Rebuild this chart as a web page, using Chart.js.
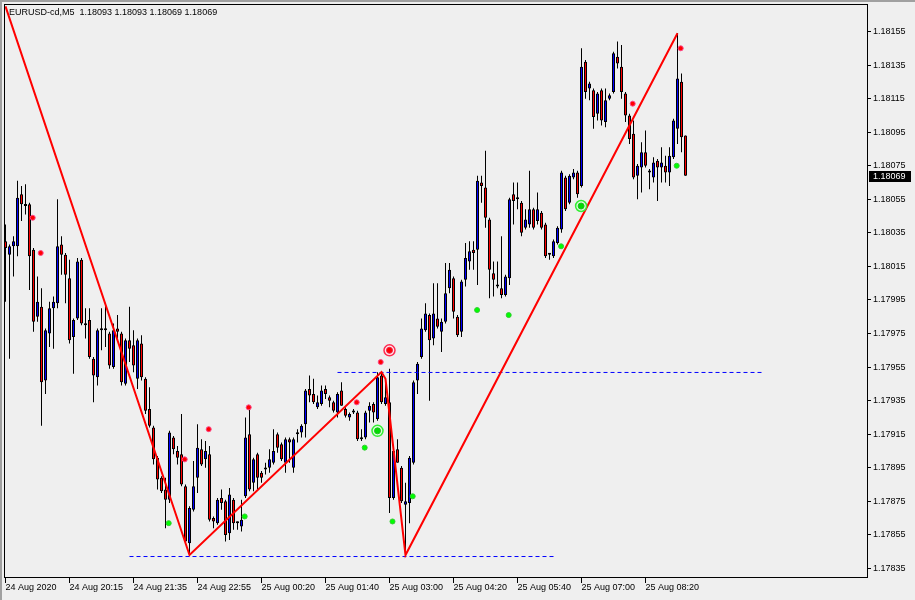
<!DOCTYPE html>
<html><head><meta charset="utf-8">
<script src="https://cdn.jsdelivr.net/npm/chart.js@4.4.1/dist/chart.umd.min.js"></script>
<style>
html,body{margin:0;padding:0;background:#efefef;overflow:hidden;}
#wrap{position:relative;width:915px;height:600px;}
</style></head><body>
<div id="wrap"><canvas id="c" width="915" height="600"></canvas></div>
<script>
const symbol = "EURUSD-cd,M5";
const opens = [
1.18030,1.18022,1.18027,1.18027,1.18058,1.18052,1.18052,1.18025,1.17985,1.17991,
1.17947,1.17975,1.17990,1.17993,1.18028,1.18022,1.18008,1.17973,1.17984,1.18019,
1.17980,1.17983,1.17960,1.17949,1.17977,1.17977,1.17975,1.17955,1.17978,1.17975,
1.17945,1.17971,1.17968,1.17948,1.17969,1.17948,1.17930,1.17919,1.17901,1.17889,
1.17882,1.17876,1.17913,1.17905,1.17903,1.17884,1.17850,1.17870,1.17889,1.17906,
1.17900,1.17903,1.17865,1.17862,1.17877,1.17875,1.17856,1.17876,1.17862,1.17860,
1.17878,1.17915,1.17886,1.17903,1.17892,1.17895,1.17895,1.17898,1.17915,1.17909,
1.17898,1.17912,1.17895,1.17915,1.17916,1.17921,1.17942,1.17939,1.17931,1.17933,
1.17942,1.17937,1.17934,1.17928,1.17941,1.17930,1.17925,1.17928,1.17928,1.17912,
1.17913,1.17929,1.17933,1.17924,1.17950,1.17933,1.17934,1.17877,1.17906,1.17895,
1.17873,1.17874,1.17898,1.17947,1.17961,1.17977,1.17986,1.17972,1.17984,1.17976,
1.17982,1.18002,1.18008,1.17985,1.17976,1.18007,1.18018,1.18025,1.18025,1.18065,
1.18062,1.18043,1.18011,1.18004,1.18002,1.17998,1.18008,1.18058,1.18055,1.18053,
1.18038,1.18040,1.18049,1.18042,1.18047,1.18040,1.18022,1.18021,1.18029,1.18037,
1.18068,1.18053,1.18068,1.18071,1.18063,1.18137,1.18121,1.18120,1.18106,1.18120,
1.18101,1.18115,1.18119,1.18140,1.18134,1.18118,1.18105,1.18094,1.18069,1.18074,
1.18083,1.18072,1.18068,1.18078,1.18074,1.18075,1.18071,1.18080,1.18097,1.18125,
1.18093];
const highs = [
1.18040,1.18028,1.18033,1.18066,1.18063,1.18064,1.18053,1.18026,1.18009,1.18002,
1.17978,1.17994,1.17997,1.18055,1.18033,1.18023,1.18019,1.17984,1.18020,1.18020,
1.17990,1.17990,1.17961,1.17978,1.17990,1.17993,1.17976,1.17981,1.17986,1.17976,
1.17972,1.17991,1.17977,1.17972,1.17974,1.17949,1.17943,1.17920,1.17902,1.17890,
1.17889,1.17917,1.17914,1.17908,1.17927,1.17885,1.17872,1.17899,1.17921,1.17912,
1.17911,1.17908,1.17866,1.17877,1.17882,1.17876,1.17883,1.17877,1.17863,1.17876,
1.17925,1.17930,1.17901,1.17904,1.17893,1.17898,1.17906,1.17918,1.17916,1.17910,
1.17913,1.17913,1.17913,1.17918,1.17921,1.17942,1.17950,1.17948,1.17938,1.17944,
1.17944,1.17938,1.17935,1.17940,1.17946,1.17931,1.17928,1.17930,1.17929,1.17918,
1.17929,1.17934,1.17934,1.17952,1.17952,1.17947,1.17954,1.17906,1.17912,1.17896,
1.17886,1.17902,1.17947,1.17958,1.17984,1.17993,1.17987,1.18005,1.18005,1.17984,
1.18017,1.18017,1.18009,1.17986,1.18007,1.18029,1.18030,1.18030,1.18069,1.18069,
1.18084,1.18044,1.18018,1.18018,1.18033,1.18010,1.18056,1.18065,1.18065,1.18054,
1.18049,1.18072,1.18050,1.18059,1.18048,1.18041,1.18023,1.18031,1.18039,1.18072,
1.18069,1.18070,1.18073,1.18072,1.18145,1.18138,1.18125,1.18121,1.18119,1.18121,
1.18121,1.18118,1.18143,1.18149,1.18147,1.18119,1.18106,1.18102,1.18076,1.18089,
1.18096,1.18073,1.18080,1.18079,1.18086,1.18081,1.18086,1.18103,1.18154,1.18130,
1.18093];
const lows = [
1.17994,1.17960,1.18009,1.18021,1.18042,1.18046,1.18001,1.17976,1.17982,1.17920,
1.17939,1.17967,1.17966,1.17990,1.18010,1.17993,1.17969,1.17951,1.17983,1.17980,
1.17972,1.17960,1.17934,1.17944,1.17965,1.17967,1.17954,1.17954,1.17972,1.17944,
1.17944,1.17958,1.17952,1.17942,1.17947,1.17927,1.17919,1.17897,1.17882,1.17880,
1.17859,1.17874,1.17903,1.17897,1.17884,1.17850,1.17843,1.17869,1.17880,1.17896,
1.17895,1.17863,1.17859,1.17861,1.17870,1.17851,1.17852,1.17858,1.17858,1.17857,
1.17877,1.17881,1.17881,1.17882,1.17886,1.17891,1.17892,1.17897,1.17904,1.17899,
1.17892,1.17898,1.17892,1.17910,1.17913,1.17913,1.17934,1.17933,1.17930,1.17932,
1.17936,1.17931,1.17928,1.17925,1.17932,1.17925,1.17923,1.17927,1.17911,1.17911,
1.17912,1.17922,1.17922,1.17923,1.17933,1.17932,1.17868,1.17876,1.17898,1.17874,
1.17843,1.17862,1.17897,1.17939,1.17960,1.17976,1.17935,1.17968,1.17978,1.17964,
1.17981,1.17999,1.17984,1.17973,1.17973,1.18003,1.18013,1.18013,1.18004,1.18053,
1.18038,1.17996,1.17997,1.18002,1.17996,1.17997,1.18004,1.18040,1.18049,1.18033,
1.18037,1.18038,1.18037,1.18040,1.18037,1.18020,1.18019,1.18020,1.18028,1.18035,
1.18048,1.18052,1.18067,1.18056,1.18062,1.18115,1.18114,1.18097,1.18102,1.18099,
1.18098,1.18114,1.18118,1.18133,1.18115,1.18101,1.18088,1.18067,1.18055,1.18059,
1.18074,1.18061,1.18065,1.18054,1.18065,1.18065,1.18063,1.18079,1.18088,1.18083,
1.18069];
const closes = [
1.18026,1.18027,1.18030,1.18056,1.18052,1.18051,1.18021,1.17982,1.17994,1.17946,
1.17977,1.17990,1.17994,1.18027,1.18022,1.18010,1.17971,1.17983,1.18018,1.17981,
1.17981,1.17961,1.17950,1.17977,1.17977,1.17977,1.17956,1.17977,1.17976,1.17946,
1.17971,1.17966,1.17956,1.17971,1.17949,1.17929,1.17920,1.17900,1.17888,1.17881,
1.17876,1.17916,1.17906,1.17901,1.17885,1.17851,1.17871,1.17884,1.17907,1.17897,
1.17905,1.17864,1.17863,1.17876,1.17874,1.17855,1.17879,1.17862,1.17862,1.17864,
1.17913,1.17882,1.17900,1.17889,1.17889,1.17894,1.17900,1.17905,1.17907,1.17900,
1.17912,1.17910,1.17912,1.17915,1.17920,1.17941,1.17938,1.17934,1.17934,1.17941,
1.17939,1.17935,1.17929,1.17939,1.17932,1.17926,1.17927,1.17929,1.17912,1.17912,
1.17928,1.17932,1.17928,1.17949,1.17934,1.17937,1.17877,1.17905,1.17898,1.17875,
1.17875,1.17901,1.17946,1.17957,1.17978,1.17987,1.17971,1.17987,1.17979,1.17982,
1.17999,1.18013,1.17988,1.17974,1.18006,1.18020,1.18024,1.18023,1.18066,1.18063,
1.18044,1.18013,1.18007,1.18003,1.17998,1.18009,1.18055,1.18054,1.18055,1.18035,
1.18043,1.18049,1.18038,1.18049,1.18038,1.18021,1.18022,1.18030,1.18038,1.18071,
1.18049,1.18069,1.18071,1.18058,1.18134,1.18119,1.18124,1.18104,1.18118,1.18102,
1.18114,1.18117,1.18142,1.18136,1.18119,1.18105,1.18091,1.18068,1.18075,1.18083,
1.18075,1.18071,1.18077,1.18074,1.18077,1.18071,1.18081,1.18102,1.18127,1.18092,
1.18069];

const xTickBars = [0,16,32,48,64,80,96,112,128,144,160];
const xTickLabels = ["24 Aug 2020","24 Aug 20:15","24 Aug 21:35","24 Aug 22:55","25 Aug 00:20",
  "25 Aug 01:40","25 Aug 03:00","25 Aug 04:20","25 Aug 05:40","25 Aug 07:00","25 Aug 08:20"];
const yTickValues = [1.17835,1.17855,1.17875,1.17895,1.17915,1.17935,1.17955,1.17975,1.17995,
  1.18015,1.18035,1.18055,1.18075,1.18095,1.18115,1.18135,1.18155];

const zigzagBars = [0,46,94,95,100,168];
const zigzagPrices = [1.18170,1.17843,1.17952,1.17948,1.17843,1.18154];

const redDotBars = [6.8,8.8,44.8,50.8,60.8,87.8,93.8,156.8,168.8];
const redDotPrices = [1.18044,1.18023,1.17900,1.17918,1.17931,1.17934,1.17958,1.18112,1.18145];
const greenDotBars = [40.8,59.8,89.8,96.75,101.8,117.9,125.8,138.9,167.8];
const greenDotPrices = [1.17862,1.17866,1.17907,1.17863,1.17878,1.17989,1.17986,1.18027,1.18075];
const redRingBars = [96];
const redRingPrices = [1.17965];
const greenRingBars = [93,143.9];
const greenRingPrices = [1.17917,1.18051];

const levelPrices = [1.178421,1.179518];
const levelFromBars = [31,83];
const levelToBars = [137,189];

const FONT = '"Liberation Sans", Arial, sans-serif';
const idx = opens.map((_, i) => i);
const wickData = idx.map(i => ({x: i, y: [lows[i], highs[i]]}));
const bodyData = idx.map(i => ({x: i, y: [Math.min(opens[i], closes[i]), Math.max(opens[i], closes[i])]}));
const bodyColors = idx.map(i => closes[i] > opens[i] ? '#0000ff' : '#ff0000');
const pts = (xs, ys) => xs.map((x, k) => ({x, y: ys[k]}));

const levelSets = levelPrices.map((p, k) => ({
  type: 'line', data: [{x: levelFromBars[k], y: p}, {x: levelToBars[k], y: p}],
  borderColor: '#0000ff', borderWidth: 1, borderDash: [4, 3], pointRadius: 0, order: 8, tension: 0
}));

const noPad = s => { s.paddingTop = 0; s.paddingBottom = 0; s.paddingLeft = 0; s.paddingRight = 0; };

const overlay = {
  id: 'overlay',
  beforeDraw(chart) {
    const ctx = chart.ctx;
    ctx.save();
    ctx.fillStyle = '#efefef';
    ctx.fillRect(0, 0, chart.width, chart.height);
    ctx.fillStyle = '#a0a0a0';
    ctx.fillRect(0, 0, chart.width, 2);
    ctx.fillRect(0, 0, 2, chart.height);
    ctx.restore();
  },
  afterDraw(chart) {
    const {ctx, chartArea: a, scales: {y}} = chart;
    const n = closes.length - 1;
    ctx.save();
    ctx.strokeStyle = '#000';
    ctx.lineWidth = 1;
    ctx.strokeRect(a.left + 0.5, a.top + 0.5, a.right - a.left, a.bottom - a.top - 1);
    ctx.fillStyle = '#000';
    ctx.font = '9px ' + FONT;
    ctx.textBaseline = 'middle';
    ctx.textAlign = 'left';
    const hdr = symbol + '  ' + [opens[n], highs[n], lows[n], closes[n]].map(v => v.toFixed(5)).join(' ');
    ctx.fillText(hdr, 9, 13);
    const py = Math.round(y.getPixelForValue(closes[n]));
    ctx.fillRect(869, py - 5, 42, 11);
    ctx.fillStyle = '#fff';
    ctx.fillText(closes[n].toFixed(5), 873, py + 0.5);
    ctx.restore();
  }
};

new Chart(document.getElementById('c'), {
  type: 'bar',
  data: {
    datasets: [
      {type: 'bar', data: wickData, backgroundColor: '#000', borderWidth: 0, barThickness: 1,
       grouped: false, inflateAmount: 0, order: 10},
      {type: 'bar', data: bodyData, backgroundColor: bodyColors, borderColor: '#000', borderWidth: 1,
       borderSkipped: false, barThickness: 3, grouped: false, minBarLength: 2, inflateAmount: 0, order: 9},
      ...levelSets,
      {type: 'line', data: pts(zigzagBars, zigzagPrices), borderColor: '#ff0000', borderWidth: 2,
       pointRadius: 0, tension: 0, order: 7},
      {type: 'line', showLine: false, data: pts(redDotBars, redDotPrices), pointRadius: 2.5,
       pointBackgroundColor: '#ff0000', pointBorderColor: '#ff4488', pointBorderWidth: 1, order: 3},
      {type: 'line', showLine: false, data: pts(greenDotBars, greenDotPrices), pointRadius: 2.5,
       pointBackgroundColor: '#00ff00', pointBorderColor: '#33cc33', pointBorderWidth: 1, order: 3},
      {type: 'line', showLine: false, data: pts(redRingBars, redRingPrices), pointRadius: 5.5,
       pointBackgroundColor: 'rgba(255,230,235,0.9)', pointBorderColor: '#ff2a50', pointBorderWidth: 1.5, order: 2},
      {type: 'line', showLine: false, data: pts(redRingBars, redRingPrices), pointRadius: 3,
       pointBackgroundColor: '#ff0000', pointBorderColor: '#ee2244', pointBorderWidth: 1, order: 1},
      {type: 'line', showLine: false, data: pts(greenRingBars, greenRingPrices), pointRadius: 5.5,
       pointBackgroundColor: 'rgba(220,255,220,0.9)', pointBorderColor: '#33ee33', pointBorderWidth: 1.5, order: 2},
      {type: 'line', showLine: false, data: pts(greenRingBars, greenRingPrices), pointRadius: 3,
       pointBackgroundColor: '#00dd00', pointBorderColor: '#22bb22', pointBorderWidth: 1, order: 1}
    ]
  },
  options: {
    responsive: false, animation: false, devicePixelRatio: 1, events: [],
    layout: {autoPadding: false, padding: {left: 4, top: 4, right: 0, bottom: 0}},
    plugins: {legend: {display: false}, tooltip: {enabled: false}, title: {display: false}},
    scales: {
      x: {
        type: 'linear', min: -0.375, max: 215.375, offset: false,
        afterBuildTicks: s => { s.ticks = xTickBars.map(v => ({value: v})); },
        afterFit: s => { s.height = 22; noPad(s); },
        ticks: {callback: (v, k) => xTickLabels[k], align: 'start', maxRotation: 0, autoSkip: false,
                font: {family: FONT, size: 9, lineHeight: 1}, color: '#000', padding: 0},
        grid: {offset: false, drawOnChartArea: false, drawTicks: true, tickLength: 5, color: '#000', tickColor: '#000'},
        border: {display: false}
      },
      y: {
        type: 'linear', position: 'right', min: 1.178293, max: 1.181714,
        afterBuildTicks: s => { s.ticks = yTickValues.map(v => ({value: v})); },
        afterFit: s => { s.width = 48; noPad(s); },
        ticks: {callback: v => v.toFixed(5), autoSkip: false, font: {family: FONT, size: 9}, color: '#000', padding: 2},
        grid: {drawOnChartArea: false, drawTicks: true, tickLength: 4, color: '#000', tickColor: '#000'},
        border: {display: false}
      }
    }
  },
  plugins: [overlay]
});
</script>
</body></html>
